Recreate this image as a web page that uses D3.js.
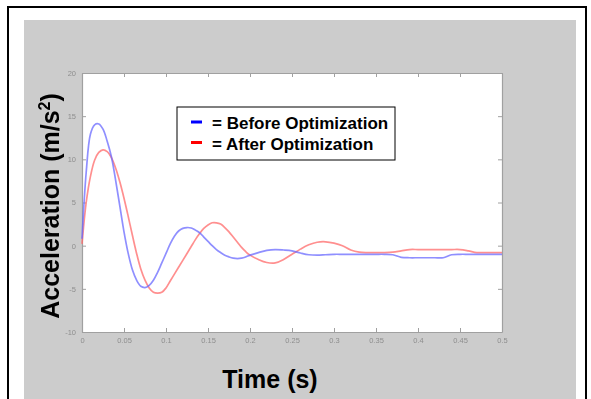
<!DOCTYPE html>
<html>
<head>
<meta charset="utf-8">
<script src="https://cdn.jsdelivr.net/npm/d3@7"></script>
<style>
  html, body { margin: 0; padding: 0; background: #fff; }
  svg { display: block; }
</style>
</head>
<body>
<div id="chart"></div>
<script>
// sample times (s)
const times = [
  0, 0.005, 0.01, 0.015, 0.02, 0.025, 0.03, 0.035, 0.04, 0.045,
  0.05, 0.055, 0.06, 0.065, 0.07, 0.075, 0.08, 0.085, 0.09, 0.095,
  0.1, 0.105, 0.11, 0.115, 0.12, 0.125, 0.13, 0.135, 0.14, 0.145,
  0.15, 0.155, 0.16, 0.165, 0.17, 0.175, 0.18, 0.185, 0.19, 0.195,
  0.2, 0.21, 0.22, 0.23, 0.24, 0.25, 0.26, 0.27, 0.28, 0.29,
  0.3, 0.31, 0.32, 0.33, 0.34, 0.35, 0.36, 0.37, 0.38, 0.39,
  0.4, 0.41, 0.42, 0.43, 0.44, 0.45, 0.46, 0.47, 0.48, 0.49, 0.5
];

// acceleration before optimization (m/s^2)
const beforeVals = [
  0.8, 8.5, 12.9, 14.0, 14.1, 13.5, 12.1, 10.3, 7.6, 4.6,
  1.6, -0.9, -2.8, -4.0, -4.7, -4.85, -4.6, -4.0, -3.1, -2.0,
  -0.9, 0.2, 1.1, 1.7, 2.0, 2.1, 2.05, 1.8, 1.5, 1.0,
  0.5, 0.0, -0.45, -0.8, -1.1, -1.3, -1.45, -1.5, -1.45, -1.3,
  -1.1, -0.8, -0.55, -0.45, -0.5, -0.6, -0.85, -1.05, -1.1, -1.05,
  -1.0, -1.0, -1.0, -1.0, -1.0, -1.0, -1.0, -1.05, -1.35, -1.4,
  -1.4, -1.4, -1.4, -1.4, -1.05, -1.0, -1.0, -1.0, -1.0, -1.0, -1.0
];

// acceleration after optimization (m/s^2)
const afterVals = [
  0.2, 5.0, 8.0, 9.9, 10.8, 11.1, 10.9, 10.2, 9.0, 7.4,
  5.5, 3.4, 1.2, -0.9, -2.7, -4.0, -4.9, -5.4, -5.5, -5.4,
  -4.9, -4.1, -3.3, -2.5, -1.7, -0.9, -0.1, 0.7, 1.4, 2.0,
  2.4, 2.65, 2.65, 2.5, 2.1, 1.6, 1.0, 0.4, -0.2, -0.7,
  -1.1, -1.6, -1.95, -2.0, -1.6, -1.0, -0.4, 0.1, 0.4, 0.45,
  0.3, 0.0, -0.5, -0.75, -0.8, -0.8, -0.8, -0.75, -0.6, -0.45,
  -0.45, -0.45, -0.45, -0.45, -0.45, -0.45, -0.6, -0.8, -0.8, -0.8, -0.8
];

const xTicks = [0, 0.05, 0.1, 0.15, 0.2, 0.25, 0.3, 0.35, 0.4, 0.45, 0.5];
const xTickLabels = ['0', '0.05', '0.1', '0.15', '0.2', '0.25', '0.3', '0.35', '0.4', '0.45', '0.5'];
const yTicks = [-10, -5, 0, 5, 10, 15, 20];
const yTickLabels = ['-10', '-5', '0', '5', '10', '15', '20'];

const legendItems = [
  { label: '= Before Optimization', color: '#0000ff' },
  { label: '= After Optimization', color: '#ff0000' }
];

const W = 591, H = 399;
const pLeft = 82, pRight = 502, pTop = 73, pBottom = 332;

const svg = d3.select('#chart').append('svg')
  .attr('width', W).attr('height', H);

const defs = svg.append('defs');
defs.append('filter').attr('id', 'soft')
  .append('feGaussianBlur').attr('stdDeviation', 0.45);

// page frame + gray panel
svg.append('rect').attr('x', 8).attr('y', 7).attr('width', 578).attr('height', 420)
  .attr('fill', '#fff').attr('stroke', '#000').attr('stroke-width', 2);
svg.append('rect').attr('x', 24).attr('y', 20).attr('width', 552).attr('height', 390)
  .attr('fill', '#cccccc');

// plot area
svg.append('rect').attr('x', pLeft).attr('y', pTop)
  .attr('width', pRight - pLeft).attr('height', pBottom - pTop).attr('fill', '#fff');

const x = d3.scaleLinear().domain([0, 0.5]).range([pLeft, pRight]);
const y = d3.scaleLinear().domain([-10, 20]).range([pBottom, pTop]);

const axisG = svg.append('g').attr('filter', 'url(#soft)');

function styleAxis(g) {
  g.selectAll('.domain').attr('stroke', '#a0a0a0').attr('stroke-width', 1.2);
  g.selectAll('.tick line').attr('stroke', '#a0a0a0').attr('stroke-width', 1);
  g.selectAll('.tick text').attr('fill', '#8e8e8e')
    .style('font-family', 'Liberation Sans, Arial, sans-serif').style('font-size', '7.5px');
}

axisG.append('g').attr('transform', `translate(0,${pBottom})`)
  .call(d3.axisBottom(x).tickValues(xTicks).tickFormat((d, i) => xTickLabels[i])
    .tickSizeInner(-4).tickSizeOuter(0).tickPadding(6))
  .call(styleAxis);

axisG.append('g').attr('transform', `translate(0,${pTop})`)
  .call(d3.axisTop(x).tickValues(xTicks).tickFormat('')
    .tickSizeInner(-4).tickSizeOuter(0))
  .call(styleAxis);

axisG.append('g').attr('transform', `translate(${pLeft},0)`)
  .call(d3.axisLeft(y).tickValues(yTicks).tickFormat((d, i) => yTickLabels[i])
    .tickSizeInner(-4).tickSizeOuter(0).tickPadding(6))
  .call(styleAxis);

axisG.append('g').attr('transform', `translate(${pRight},0)`)
  .call(d3.axisRight(y).tickValues(yTicks).tickFormat('')
    .tickSizeInner(-4).tickSizeOuter(0))
  .call(styleAxis);

// curves
const line = d3.line()
  .x((d, i) => x(times[i]))
  .y(d => y(d))
  .curve(d3.curveCatmullRom);

const lines = svg.append('g').attr('filter', 'url(#soft)');
lines.append('path').datum(afterVals)
  .attr('d', line).attr('fill', 'none')
  .attr('stroke', '#ff6a6a').attr('stroke-opacity', 0.75).attr('stroke-width', 1.7);
lines.append('path').datum(beforeVals)
  .attr('d', line).attr('fill', 'none')
  .attr('stroke', '#6a6aff').attr('stroke-opacity', 0.75).attr('stroke-width', 1.7);

// legend
const lg = svg.append('g').attr('transform', 'translate(177,107)');
lg.append('rect').attr('width', 218).attr('height', 53)
  .attr('fill', '#fff').attr('stroke', '#000').attr('stroke-width', 1);
legendItems.forEach((item, i) => {
  const row = lg.append('g').attr('transform', `translate(0,${15 + i * 20.5})`);
  row.append('rect').attr('x', 14).attr('y', -1.5).attr('width', 11).attr('height', 3)
    .attr('fill', item.color);
  row.append('text').attr('x', 35).attr('y', 7)
    .attr('fill', '#000')
    .style('font-family', 'Liberation Sans, Arial, sans-serif')
    .style('font-weight', 'bold').style('font-size', '17px')
    .text(item.label);
});

// axis titles
svg.append('text')
  .attr('transform', 'translate(59,206) rotate(-90)')
  .attr('text-anchor', 'middle')
  .style('font-family', 'Liberation Sans, Arial, sans-serif')
  .style('font-weight', 'bold').style('font-size', '25px')
  .call(t => {
    t.append('tspan').text('Acceleration (m/s');
    t.append('tspan').attr('dy', -9).style('font-size', '16px').text('2');
    t.append('tspan').attr('dy', 9).text(')');
  });

svg.append('text')
  .attr('x', 270).attr('y', 388)
  .attr('text-anchor', 'middle')
  .style('font-family', 'Liberation Sans, Arial, sans-serif')
  .style('font-weight', 'bold').style('font-size', '25px')
  .text('Time (s)');
</script>
</body>
</html>
